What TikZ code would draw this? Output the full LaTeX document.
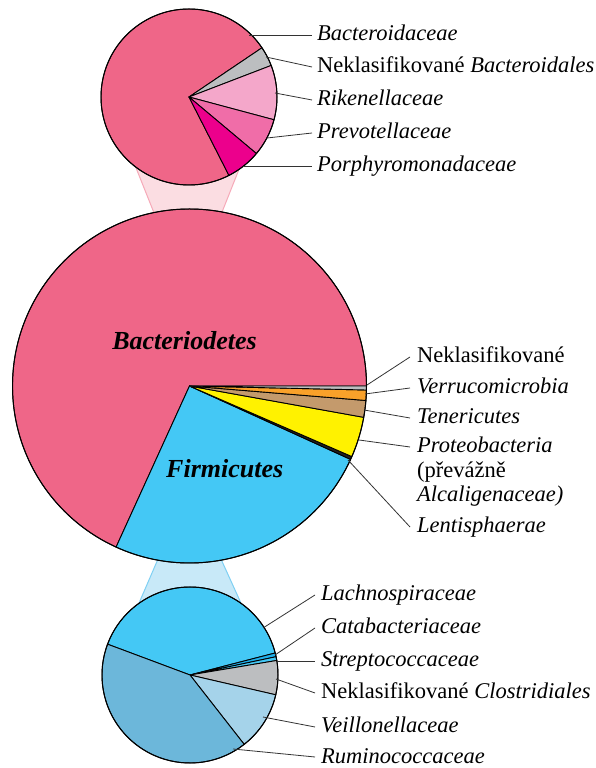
\documentclass[tikz,border=0pt]{standalone}
\usepackage{fontspec}
\setmainfont{Liberation Serif}
\usetikzlibrary{calc}
\definecolor{cBact}{HTML}{EF6688}
\definecolor{cFirm}{HTML}{44C8F5}
\definecolor{cYel}{HTML}{FFF200}
\definecolor{cBrown}{HTML}{C49A6C}
\definecolor{cOrange}{HTML}{F9A12A}
\definecolor{cGray}{HTML}{BCBEC0}
\definecolor{cLtPink}{HTML}{F4A7CA}
\definecolor{cPink}{HTML}{F06DA8}
\definecolor{cMag}{HTML}{EC008C}
\definecolor{cVeil}{HTML}{A5D3EA}
\definecolor{cRum}{HTML}{6CB7DA}
\definecolor{cCata}{HTML}{1FB0EC}
\definecolor{cDark}{HTML}{231F20}
\definecolor{cTopFill}{HTML}{FBDDE2}
\definecolor{cTopEdge}{HTML}{F6AAB9}
\definecolor{cBotFill}{HTML}{C8E9F8}
\definecolor{cBotEdge}{HTML}{7FD0F3}
\newcommand\mySlice[5]{%
  \filldraw[fill=#5, draw=black, line width=0.9pt, line join=round]
    (#1) -- ++(#3:#2) arc[start angle=#3, end angle=#4, radius=#2] -- cycle;}
\tikzset{
  lab/.style={anchor=west, inner xsep=5pt, inner ysep=0pt, text height=14pt, text depth=2pt,
    font=\fontsize{22.5}{25}\selectfont},
  midlab/.style={lab, inner xsep=7pt},
  leader/.style={draw=black!80, line width=0.8pt},
  bigname/.style={anchor=base, font=\fontsize{26}{30}\selectfont\bfseries\itshape},
  rim/.style={draw=black, line width=1pt},
}
\begin{document}
\begin{tikzpicture}[x=1pt,y=1pt]
\useasboundingbox (0,0) rectangle (596,768);
\coordinate (T) at (189,671);
\coordinate (M) at (189.5,382);
\coordinate (B) at (190,93);

% cones
\fill[cTopFill] ($(T)+(232.7:88)$) -- ($(M)+(101.6:177)$) -- ($(M)+(79.4:177)$) -- ($(T)+(-55.4:88)$) -- cycle;
\draw[cTopEdge, line width=1pt] ($(T)+(232.7:88)$) -- ($(M)+(101.6:177)$);
\draw[cTopEdge, line width=1pt] ($(T)+(-55.4:88)$) -- ($(M)+(79.4:177)$);
\fill[cBotFill] ($(M)+(259.6:177)$) -- ($(B)+(125.5:88)$) -- ($(B)+(54.5:88)$) -- ($(M)+(280.4:177)$) -- cycle;
\draw[cBotEdge, line width=1pt] ($(M)+(259.6:177)$) -- ($(B)+(125.5:88)$);
\draw[cBotEdge, line width=1pt] ($(M)+(280.4:177)$) -- ($(B)+(54.5:88)$);

% top pie
\mySlice{T}{88}{34}{297}{cBact}
\mySlice{T}{88}{21}{34}{cGray}
\mySlice{T}{88}{-15}{21}{cLtPink}
\mySlice{T}{88}{-40}{-15}{cPink}
\mySlice{T}{88}{-63}{-40}{cMag}
\draw[rim] (T) circle[radius=88];

% middle pie
\mySlice{M}{177}{0}{245.5}{cBact}
\mySlice{M}{177}{245.5}{335.5}{cFirm}
\mySlice{M}{177}{335.5}{336.5}{cDark}
\mySlice{M}{177}{336.5}{349.8}{cYel}
\mySlice{M}{177}{349.8}{355.3}{cBrown}
\mySlice{M}{177}{355.3}{358.7}{cOrange}
\mySlice{M}{177}{358.7}{360}{cGray}
\draw[rim] (M) circle[radius=177];
\node[bigname] (bac) at (184.5,418) {Bacteriodetes};
\node[bigname] (fir) at (224.7,290) {Firmicutes};

% bottom pie
\mySlice{B}{88}{14.5}{159.5}{cFirm}
\mySlice{B}{88}{12}{14.5}{cCata}
\mySlice{B}{88}{9.5}{12}{cFirm}
\mySlice{B}{88}{-13}{9.5}{cGray}
\mySlice{B}{88}{-52}{-13}{cVeil}
\mySlice{B}{88}{159.5}{308}{cRum}
\draw[rim] (B) circle[radius=88];

% top labels
\node[lab] (t1) at (312,733) {\textit{Bacteroidaceae}};
\node[lab] (t2) at (312,701) {Neklasifikované \textit{Bacteroidales}};
\node[lab] (t3) at (312,668) {\textit{Rikenellaceae}};
\node[lab] (t4) at (312,635) {\textit{Prevotellaceae}};
\node[lab] (t5) at (312,602) {\textit{Porphyromonadaceae}};
\coordinate (ct1) at (249,733);
\coordinate (ct2) at (266,711);
\coordinate (ct3) at (275,675);
\coordinate (ct4) at (267,630);
\coordinate (ct5) at (243,602);
\foreach \i in {1,...,5} {\draw[leader] (ct\i) -- (t\i.west);}

% middle labels
\node[midlab] (m1) at (410,411) {Neklasifikované};
\node[midlab] (m2) at (410,380) {\textit{Verrucomicrobia}};
\node[midlab] (m3) at (410,350) {\textit{Tenericutes}};
\node[midlab] (m4) at (410,321) {\textit{Proteobacteria}};
\node[midlab] (m4b) at (410,296) {(převážně};
\node[midlab] (m4c) at (410,272) {\textit{Alcaligenaceae)}};
\node[midlab] (m5) at (410,241) {\textit{Lentisphaerae}};
\coordinate (cm1) at (367,383);
\coordinate (cm2) at (365,374);
\coordinate (cm3) at (364,358);
\coordinate (cm4) at (359,328);
\coordinate (cm5) at (348,308);
\foreach \i in {1,...,5} {\draw[leader] (cm\i) -- (m\i.west);}

% bottom labels
\node[lab, inner xsep=6pt] (b1) at (315,173) {\textit{Lachnospiraceae}};
\node[lab, inner xsep=6pt] (b2) at (315,140) {\textit{Catabacteriaceae}};
\node[lab, inner xsep=6pt] (b3) at (315,107) {\textit{Streptococcaceae}};
\node[lab, inner xsep=6pt] (b4) at (315,75) {Neklasifikované \textit{Clostridiales}};
\node[lab, inner xsep=6pt] (b5) at (315,41) {\textit{Veillonellaceae}};
\node[lab, inner xsep=6pt] (b6) at (315,11) {\textit{Ruminococcaceae}};
\coordinate (cb1) at (263,140);
\coordinate (cb2) at (275,113);
\coordinate (cb3) at (277,107);
\coordinate (cb4) at (276,89);
\coordinate (cb5) at (263,51);
\coordinate (cb6) at (233,19);
\foreach \i in {1,...,6} {\draw[leader] (cb\i) -- (b\i.west);}
\end{tikzpicture}
\end{document}
